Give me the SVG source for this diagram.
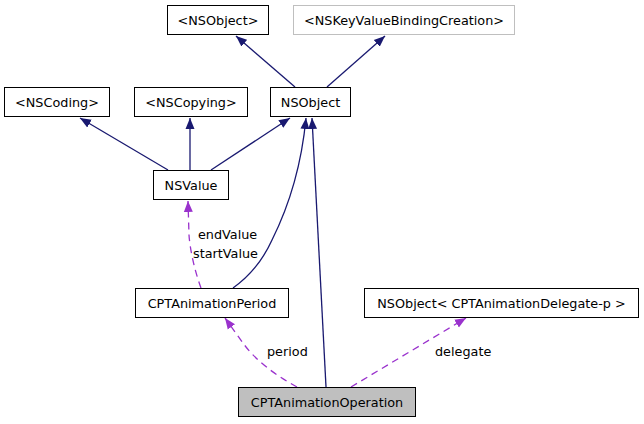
<svg xmlns="http://www.w3.org/2000/svg" width="644" height="424" viewBox="0 0 644 424">
<style>
.box{fill:#fff;stroke:#000;stroke-width:1}
.gbox{fill:#fff;stroke:#bfbfbf;stroke-width:1}
.cur{fill:#bfbfbf;stroke:#000;stroke-width:1}
text{font-family:"DejaVu Sans","Liberation Sans",sans-serif;font-size:12.8px;fill:#000}
.t{text-anchor:middle}
.inh{fill:none;stroke:#191970;stroke-width:1.3}
.use{fill:none;stroke:#9a32cd;stroke-width:1.3;stroke-dasharray:7,5}
</style>
<defs>
<marker id="an" markerUnits="userSpaceOnUse" markerWidth="12" markerHeight="10" refX="11" refY="5" orient="auto"><path d="M0,0.5 L11,5 L0,9.5 z" fill="#191970"/></marker>
<marker id="ap" markerUnits="userSpaceOnUse" markerWidth="12" markerHeight="10" refX="11" refY="5" orient="auto"><path d="M0,0.5 L11,5 L0,9.5 z" fill="#9a32cd"/></marker>
</defs>
<rect width="644" height="424" fill="#fff"/>
<g id="connectors">
<path class="inh" d="M295,87 L236,36" marker-end="url(#an)"/>
<path class="inh" d="M327,87 L385,36" marker-end="url(#an)"/>
<path class="inh" d="M168,170 L80,118" marker-end="url(#an)"/>
<path class="inh" d="M190,170 L190,118" marker-end="url(#an)"/>
<path class="inh" d="M211,170 L290,118" marker-end="url(#an)"/>
<path class="inh" d="M233,288 C250,276 262,262 272,240 C292,200 302,160 306,118" marker-end="url(#an)"/>
<path class="inh" d="M326,387 L312,118" marker-end="url(#an)"/>
<path class="use" d="M201,288 C195,272 190,250 189,235 L188,201" marker-end="url(#ap)"/>
<path class="use" d="M297,387 C275,375 255,360 243,343 L225,318" marker-end="url(#ap)"/>
<path class="use" d="M351,387 L466,318" marker-end="url(#ap)"/>
<text x="198" y="239">endValue</text>
<text x="193" y="258">startValue</text>
<text x="267" y="356">period</text>
<text x="435" y="356">delegate</text>
</g>
<g id="n_protoNSObject"><rect class="box" x="167.5" y="5.5" width="101" height="29"/><text class="t" x="218" y="24.5">&lt;NSObject&gt;</text></g>
<g id="n_kvbc"><rect class="gbox" x="293.5" y="5.5" width="221" height="29"/><text class="t" x="404" y="24.5">&lt;NSKeyValueBindingCreation&gt;</text></g>
<g id="n_NSObject"><rect class="box" x="270.5" y="87.5" width="80" height="29"/><text class="t" x="310.5" y="106.5">NSObject</text></g>
<g id="n_NSCoding"><rect class="box" x="4.5" y="87.5" width="105" height="29"/><text class="t" x="57" y="106.5">&lt;NSCoding&gt;</text></g>
<g id="n_NSCopying"><rect class="box" x="134.5" y="87.5" width="113" height="29"/><text class="t" x="191" y="106.5">&lt;NSCopying&gt;</text></g>
<g id="n_NSValue"><rect class="box" x="153.5" y="170.5" width="75" height="29"/><text class="t" x="191" y="189.5">NSValue</text></g>
<g id="n_Period"><rect class="box" x="135.5" y="288.5" width="153" height="29"/><text class="t" x="212" y="307.5">CPTAnimationPeriod</text></g>
<g id="n_Delegate"><rect class="box" x="364.5" y="288.5" width="274" height="29"/><text class="t" x="501.5" y="307.5">NSObject&lt; CPTAnimationDelegate-p &gt;</text></g>
<g id="n_Operation"><rect class="cur" x="238.5" y="387.5" width="177" height="29"/><text class="t" x="327" y="406.5">CPTAnimationOperation</text></g>
</svg>
